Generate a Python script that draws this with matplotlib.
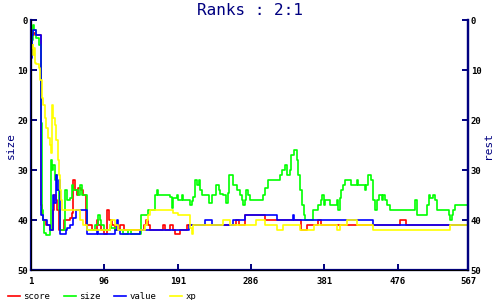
import matplotlib
matplotlib.use("Agg")
from matplotlib import pyplot as plt

# step breakpoints (rank index, rank value)
score_x = [1, 2, 4, 6, 9, 14, 15, 17, 21, 25, 29, 31, 33, 35, 37, 40, 44, 48, 51, 54, 56, 58, 60, 62, 66, 68, 72,
           80, 86, 88, 92, 96, 100, 102, 106, 110, 116, 122, 147, 150, 152, 155, 172, 174, 181, 185, 188, 194, 203,
           266, 270, 278, 304, 351, 358, 373, 376, 410, 423, 479, 487, 567]
score_y = [6, 3, 2.5, 3, 3, 37, 39, 40, 41, 42, 38, 35, 36, 38, 42, 42, 40, 40, 39.5, 38.5, 32, 34, 35, 33.5, 34, 35,
           41, 42, 40, 41, 42, 42.7, 38, 40, 41, 42, 41, 42, 41, 40, 41, 42, 41, 42, 41, 42, 42.7, 42, 41,
           40, 41, 39, 40, 42, 41, 40, 41, 41, 41, 40, 41, 41]

size_x = [1, 2, 3, 5, 8, 11, 14, 15, 16, 18, 20, 25, 27, 28, 30, 32, 34, 35, 37, 39, 45, 48, 51, 54, 55, 58, 62, 65,
          67, 73, 84, 88, 90, 92, 95, 103, 105, 110, 120, 127, 131, 144, 153, 162, 164, 166, 181, 183, 185, 190, 192,
          196, 198, 207, 209, 211, 213, 216, 218, 220, 222, 231, 235, 241, 244, 246, 250, 254, 256, 258, 262, 264,
          268, 272, 274, 276, 278, 280, 282, 285, 302, 304, 308, 324, 326, 330, 332, 336, 338, 341, 345, 347, 350,
          352, 354, 356, 358, 366, 373, 376, 378, 380, 382, 388, 397, 399, 401, 403, 405, 408, 416, 423, 425, 431,
          433, 435, 438, 442, 444, 447, 449, 452, 455, 457, 459, 462, 466, 498, 501, 514, 516, 518, 522, 524, 527,
          542, 544, 546, 548, 550, 567]
size_y = [5, 4, 1, 2, 3.5, 5, 20.5, 38, 40, 42.5, 43, 42, 28, 30, 29, 32, 31, 34, 38, 42, 34, 36, 35.5, 33, 34, 34,
          35, 33, 35, 42, 41, 39, 40, 41, 42, 41, 41.5, 42, 42.7, 42, 42.7, 39, 38, 35, 34, 35, 35.3, 37.5, 35.5,
          35, 36, 35, 36, 37, 36.2, 35.3, 32, 33, 32, 34, 35, 36.5, 35, 33, 34, 34.7, 35, 36.5, 34.5, 31, 33, 33,
          34, 35, 36, 37, 36, 34, 35, 36, 35, 33.5, 32, 31, 30, 29, 31, 30, 27, 26, 28, 31, 34, 37, 39, 40, 40,
          38, 37, 36, 35, 37, 36, 37, 36, 38, 35.5, 34, 33, 32, 33, 32, 33, 33, 34, 33, 31, 32, 36, 38, 36, 35,
          36, 35, 36, 37, 38, 36, 39, 37, 35, 35.5, 35, 36, 38, 39, 40, 39, 38, 37, 37]

value_x = [1, 2, 4, 7, 14, 16, 22, 26, 29, 31, 33, 35, 37, 39, 46, 48, 52, 56, 59, 73, 86, 88, 110, 112, 114, 116,
           142, 164, 205, 227, 236, 263, 278, 320, 340, 342, 444, 567]
value_y = [7.5, 3, 2, 3, 39, 40, 41, 42, 35, 36.5, 31, 34, 32, 42.7, 42, 41.5, 41, 39.5, 38, 42.7, 42, 42.7, 42, 40,
           42, 42.7, 42, 42, 41, 40, 41, 40, 39, 40, 39, 40, 41, 41]

xp_x = [1, 3, 4, 5, 6, 8, 12, 13, 15, 17, 19, 21, 23, 25, 27, 28, 30, 32, 34, 36, 37, 38, 40, 41, 60, 64, 68, 73,
        103, 105, 110, 114, 149, 151, 153, 155, 185, 192, 207, 209, 211, 250, 259, 293, 304, 319, 328, 349, 367,
        397, 401, 410, 423, 444, 544, 567]
xp_y = [5.5, 5, 7, 5.5, 8.5, 8.8, 9.5, 12, 15.5, 17, 19.5, 21.5, 23.5, 25, 26.5, 17, 19.5, 21, 24, 28, 31, 34, 36,
        38, 38, 40, 41, 42, 41, 40, 41, 42, 41, 40, 39, 38, 38.6, 39, 41.5, 42.7, 41, 40, 41, 40, 41, 42, 41, 42,
        41, 42, 41, 40, 41, 42, 41, 41]

x_ticks = [1, 96, 191, 286, 381, 476, 567]
y_ticks = [0, 10, 20, 30, 40, 50]

navy = "#000080"
mono = "DejaVu Sans Mono"

fig = plt.figure(figsize=(5, 3), dpi=100)
ax = fig.add_axes([0.062, 0.1, 0.874, 0.8333])

ax.plot(score_x, score_y, drawstyle="steps-post", color="#ff0000", lw=1.2, label="score")
ax.plot(size_x, size_y, drawstyle="steps-post", color="#00ff00", lw=1.2, label="size")
ax.plot(value_x, value_y, drawstyle="steps-post", color="#0000ff", lw=1.2, label="value")
ax.plot(xp_x, xp_y, drawstyle="steps-post", color="#ffff00", lw=1.2, label="xp")

ax.set_xlim(1, 567)
ax.set_ylim(50, 0)
ax.set_xticks(x_ticks)
ax.set_yticks(y_ticks)
ax.spines["top"].set_visible(False)
for s in ["left", "right", "bottom"]:
    ax.spines[s].set_color(navy)
    ax.spines[s].set_linewidth(1.6)
ax.tick_params(direction="in", length=4, width=1.4, color=navy, labelsize=6.5, pad=2)
ax.tick_params(axis="x", pad=5)
for lab in ax.get_xticklabels() + ax.get_yticklabels():
    lab.set_family(mono)
    lab.set_fontweight("bold")
ax.set_ylabel("size", color=navy, family=mono, fontsize=8, labelpad=1)

ax2 = ax.twinx()
ax2.set_ylim(50, 0)
ax2.set_yticks(y_ticks)
ax2.spines["top"].set_visible(False)
ax2.spines["right"].set_color(navy)
ax2.spines["right"].set_linewidth(1.6)
ax2.tick_params(direction="in", length=4, width=1.4, color=navy, labelsize=6.5, pad=2)
for lab in ax2.get_yticklabels():
    lab.set_family(mono)
    lab.set_fontweight("bold")
ax2.set_ylabel("rest", color=navy, family=mono, fontsize=8, labelpad=1)

fig.text(0.5, 0.965, "Ranks : 2:1", ha="center", va="center", color=navy, family=mono, fontsize=11.5)

fig.legend(loc="lower left", bbox_to_anchor=(0.0, -0.03), ncol=4, frameon=False,
           prop={"family": mono, "size": 6.5}, handlelength=1.3, handletextpad=0.4, columnspacing=1.5)

fig.savefig("out.png", dpi=100)
